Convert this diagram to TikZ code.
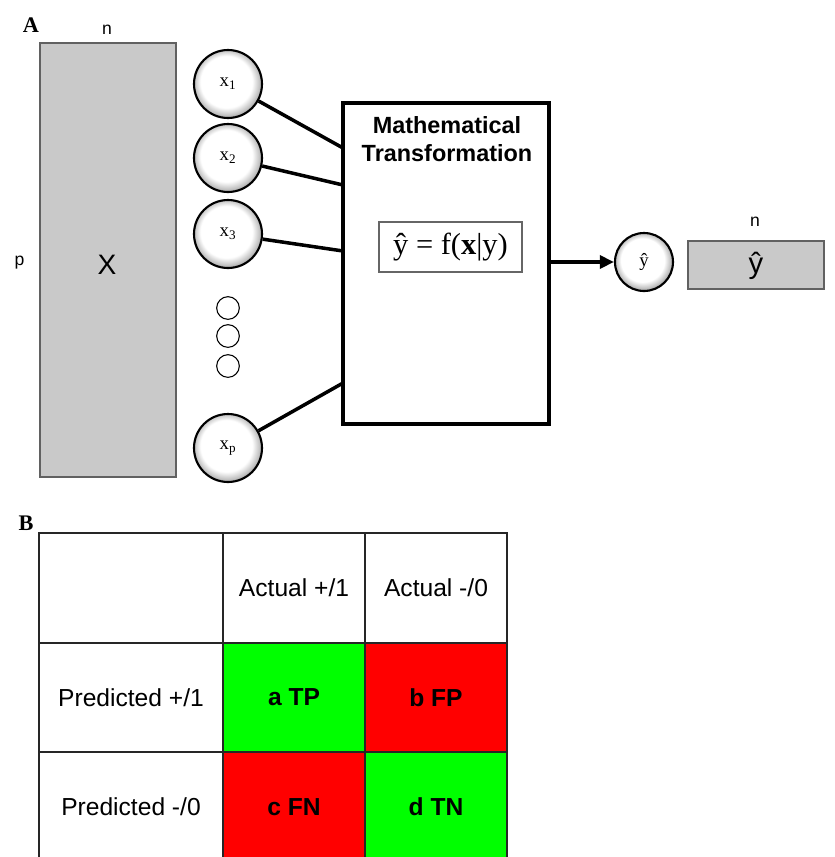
\documentclass[tikz,border=0pt]{standalone}
\usepackage{fontspec}
\setmainfont{Liberation Serif}
\setsansfont{Liberation Sans}
\usetikzlibrary{arrows.meta}

% sphere-like fills for the variable nodes (natural size, used unscaled):
% white over most of the disc, greying towards the lower-right rim
\pgfdeclareradialshading{bubblelarge}{\pgfpoint{-3pt}{4pt}}{%
  color(0pt)=(white); color(22pt)=(white); color(28pt)=(black!25);
  color(32pt)=(black!52); color(40pt)=(black!60)}
\pgfdeclareradialshading{bubblesmall}{\pgfpoint{-2.5pt}{3.4pt}}{%
  color(0pt)=(white); color(18.5pt)=(white); color(23.5pt)=(black!25);
  color(27pt)=(black!52); color(34pt)=(black!60)}

\definecolor{panelgray}{gray}{0.79}
\definecolor{edgegray}{gray}{0.38}
\definecolor{cellgreen}{RGB}{0,255,0}
\definecolor{cellred}{RGB}{255,0,0}

\begin{document}
\begin{tikzpicture}[x=0.03cm, y=-0.03cm,
  panel/.style={font=\fontsize{19}{22}\selectfont\bfseries},
  dimlabel/.style={font=\sffamily\fontsize{15}{18}\selectfont},
  matrixbox/.style={fill=panelgray, draw=edgegray, line width=1.1pt, inner sep=0pt},
  bubble/.style={path picture={
    \node[inner sep=0pt, outer sep=0pt] at (path picture bounding box.center) {\pgfuseshading{#1}};}},
  inputnode/.style={circle, draw, line width=1.8pt, bubble=bubblelarge,
    minimum size=2.04cm, inner sep=0pt, font=\fontsize{16}{18}\selectfont},
  dotnode/.style={circle, draw, line width=0.9pt, fill=white, minimum size=0.68cm, inner sep=0pt},
  wire/.style={line width=3pt},
  cell/.style={font=\sffamily\fontsize{21}{24}\selectfont},
  cellbold/.style={font=\sffamily\bfseries\fontsize{21}{24}\selectfont},
  grid/.style={draw=black!85, line width=1.3pt}]

\clip (0,0) rectangle (835,857);

% ---------------- panel A ----------------
\node[panel] (labA) at (31,25) {A};

% data matrix X (p rows, n columns)
\node[matrixbox, minimum width=4.08cm, minimum height=13.02cm] (Xmat) at (108,260) {};
\node[font=\sffamily\fontsize{24}{26}\selectfont] (Xtxt) at (107,265) {X};
\node[dimlabel] (nX) at (107,30) {n};
\node[dimlabel] (pX) at (19.5,263) {p};

% input variables
\node[inputnode] (x1) at (228,84)  {x\textsubscript{1}};
\node[inputnode] (x2) at (228,158) {x\textsubscript{2}};
\node[inputnode] (x3) at (228,234) {x\textsubscript{3}};
\node[inputnode] (xp) at (228,448) {x\textsubscript{p}};
\node[dotnode] (d1) at (228,308) {};
\node[dotnode] (d2) at (228,336) {};
\node[dotnode] (d3) at (228,366) {};

% transformation box
\node[draw, line width=3pt, minimum width=6.18cm, minimum height=9.63cm, inner sep=0pt]
  (mt) at (446,263.5) {};
\node[font=\sffamily\bfseries\fontsize{20}{24}\selectfont, align=center] (mttitle)
  at (447,139) {Mathematical\\Transformation};
\node[draw=black!60, line width=0.9pt, minimum width=4.29cm, minimum height=1.5cm, inner sep=0pt,
  font=\fontsize{26}{30}\selectfont] (fx) at (450.5,247) {ŷ = f(\textbf{x}|y)};

% wires into the box
\coordinate (m1) at (343,148);
\coordinate (m2) at (343,185);
\coordinate (m3) at (343,251);
\coordinate (mp) at (343,383);
\draw[wire] (x1) -- (m1);
\draw[wire] (x2) -- (m2);
\draw[wire] (x3) -- (m3);
\draw[wire] (xp) -- (mp);

% output
\node[inputnode, minimum size=1.74cm, bubble=bubblesmall] (yc) at (644,262) {ŷ};
\draw[wire, -{Triangle[length=12pt, width=11pt]}] (mt.east |- yc) -- (yc);

\node[matrixbox, minimum width=4.08cm, minimum height=1.44cm] (Ymat) at (756,265) {};
\node[font=\sffamily\fontsize{25}{27}\selectfont] (Ytxt) at (756,266) {ŷ};
\node[dimlabel] (nY) at (755,222) {n};

% ---------------- panel B ----------------
\node[panel] (labB) at (26,523) {B};

\fill[cellgreen] (223,643) rectangle (365,752);
\fill[cellred]   (365,643) rectangle (507,752);
\fill[cellred]   (223,752) rectangle (365,870);
\fill[cellgreen] (365,752) rectangle (507,870);

\draw[grid] (39,870) -- (39,533) -- (507,533) -- (507,870);
\draw[grid] (39,643) -- (507,643);
\draw[grid] (39,752) -- (507,752);
\draw[grid] (223,533) -- (223,870);
\draw[grid] (365,533) -- (365,870);

\node[cell] (ap) at (294,588) {Actual +/1};
\node[cell] (an) at (436,588) {Actual -/0};
\node[cell] (pp) at (131,697.5) {Predicted +/1};
\node[cell] (pn) at (131,807) {Predicted -/0};
\node[cellbold] (tp) at (294,697.5) {a TP};
\node[cellbold] (fp) at (436,697.5) {b FP};
\node[cellbold] (fn) at (294,807) {c FN};
\node[cellbold] (tn) at (436,807) {d TN};
\end{tikzpicture}
\end{document}
